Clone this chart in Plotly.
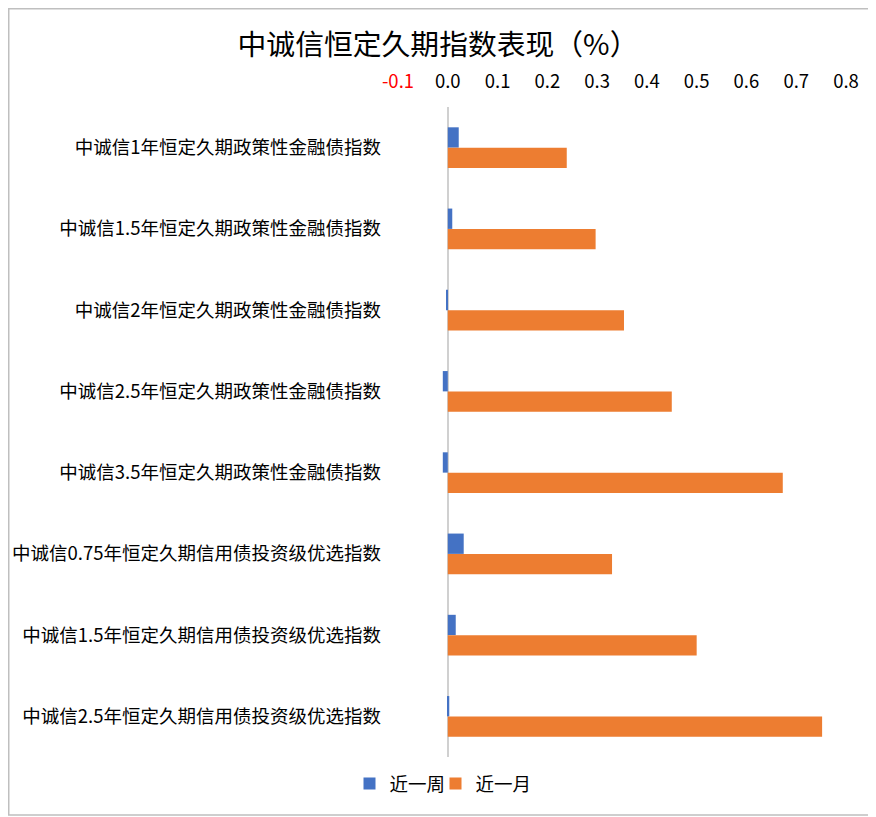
import plotly.graph_objects as go

categories = [
    "中诚信1年恒定久期政策性金融债指数",
    "中诚信1.5年恒定久期政策性金融债指数",
    "中诚信2年恒定久期政策性金融债指数",
    "中诚信2.5年恒定久期政策性金融债指数",
    "中诚信3.5年恒定久期政策性金融债指数",
    "中诚信0.75年恒定久期信用债投资级优选指数",
    "中诚信1.5年恒定久期信用债投资级优选指数",
    "中诚信2.5年恒定久期信用债投资级优选指数",
]
week = [0.022, 0.009, -0.003, -0.010, -0.010, 0.032, 0.016, 0.003]
month = [0.239, 0.297, 0.354, 0.450, 0.673, 0.330, 0.500, 0.752]

tick_vals = [-0.1, 0.0, 0.1, 0.2, 0.3, 0.4, 0.5, 0.6, 0.7, 0.8]
tick_text = ["<span style='color:#FF0000'>-0.1</span>", "0.0", "0.1", "0.2", "0.3",
             "0.4", "0.5", "0.6", "0.7", "0.8"]

font_family = "Noto Sans CJK SC, Microsoft YaHei, sans-serif"

W, H = 868, 809
L, R, T, B = 390, 30, 99, 60
PW, PH = W - L - R, H - T - B

fig = go.Figure()
fig.add_trace(go.Bar(y=categories, x=week, name="近一周", orientation="h",
                     marker=dict(color="#4472C4", line=dict(width=0)), legendwidth=41))
fig.add_trace(go.Bar(y=categories, x=month, name="近一月", orientation="h",
                     marker=dict(color="#ED7D31", line=dict(width=0))))

fig.update_layout(
    width=W, height=H,
    barmode="group", bargap=0.5, bargroupgap=0,
    plot_bgcolor="white", paper_bgcolor="white",
    font=dict(family=font_family, size=18.5, color="#000000"),
    title=dict(text="中诚信恒定久期指数表现（%）", x=430 / W, xanchor="center",
               y=1 - 37 / H, yanchor="middle", font=dict(size=28.8, color="#000000")),
    margin=dict(l=L, r=R, t=T, b=B, autoexpand=False),
    xaxis=dict(side="top", range=[-0.1, 0.8], tickvals=tick_vals, ticktext=tick_text,
               showgrid=False, zeroline=True, zerolinecolor="#D0D0D0", zerolinewidth=2,
               showline=False, ticks="", tickfont=dict(size=18.5), ticklabelstandoff=14,
               automargin=False),
    yaxis=dict(autorange="reversed", showgrid=False, showline=False, ticks="",
               tickfont=dict(size=18.5), ticklabelstandoff=16, automargin=False),
    legend=dict(orientation="h", x=(435 - L) / PW, xanchor="center",
                y=-(776 - (T + PH)) / PH, yanchor="middle",
                font=dict(size=18.5), traceorder="normal", itemwidth=30),
)
# outer chart border
fig.add_shape(type="rect", xref="paper", yref="paper",
              x0=(0.75 - L) / PW, x1=(W - 2 - L) / PW,
              y0=-(H - 2 - (T + PH)) / PH, y1=1 + (T - 0.75) / PH,
              line=dict(color="#BFBFBF", width=1.5), layer="below")

fig.write_html("out.html")
